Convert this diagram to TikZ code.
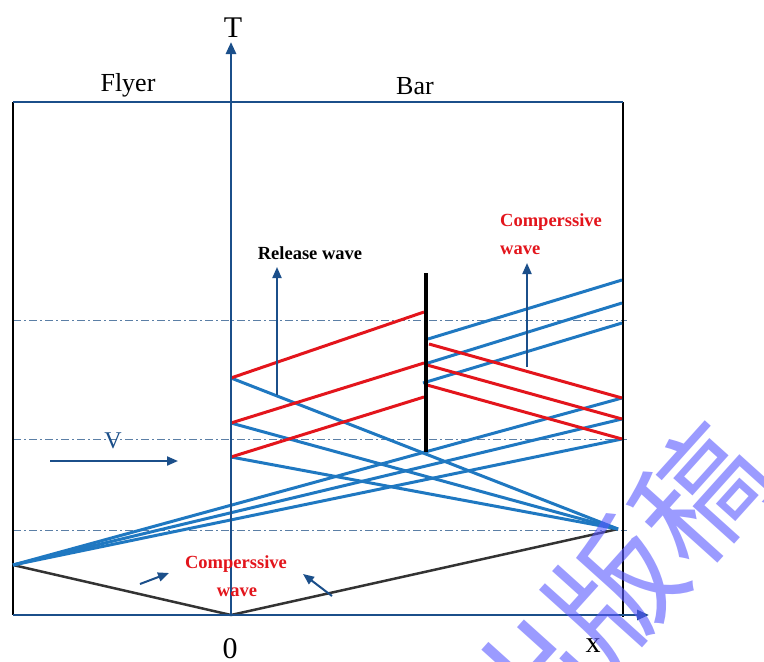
\documentclass[tikz,border=0pt]{standalone}
\usepackage{fontspec}
\setmainfont{Liberation Serif}
\newfontfamily\cjkfont{Noto Sans CJK SC}
\usetikzlibrary{arrows.meta}
\definecolor{axisblue}{HTML}{1B4F8A}
\definecolor{waveblue}{HTML}{1F78C1}
\definecolor{wavered}{HTML}{E3151C}
\definecolor{dashgray}{HTML}{5B7FA6}
\definecolor{wmblue}{rgb}{0.35,0.35,1}
\definecolor{frontgray}{HTML}{333333}
\begin{document}
\begin{tikzpicture}[x=1pt,y=-1pt,
  axisline/.style={draw=axisblue,line width=2.7pt},
  axisarrow/.style={axisline,-{Triangle[length=12pt,width=10pt]}},
  edgeline/.style={draw=black,line width=2.4pt},
  bluewave/.style={draw=waveblue,line width=3pt},
  redwave/.style={draw=wavered,line width=3pt},
  guide/.style={draw=dashgray,line width=1pt,dash pattern=on 8pt off 3pt on 2pt off 3pt},
  frontline/.style={draw=frontgray,line width=2.5pt},
  marker/.style={draw=axisblue,line width=2pt,-{Triangle[length=11pt,width=9pt]}},
  lbl/.style={inner sep=0pt,anchor=base},
  axislbl/.style={lbl,font=\fontsize{30}{32}\selectfont},
  partlbl/.style={lbl,font=\fontsize{26}{28}\selectfont},
  wavelbl/.style={lbl,font=\bfseries\fontsize{18.5}{20}\selectfont},
]
\useasboundingbox (0,0) rectangle (764,662);
\fill[white] (0,0) rectangle (764,662);

% coordinates
\coordinate (tl) at (13,102);
\coordinate (tr) at (623,102);
\coordinate (bl) at (13,615);
\coordinate (br) at (623,617);
\coordinate (O) at (231,615);
\coordinate (Ttip) at (231,42);
\coordinate (Xtip) at (649,615);
\coordinate (A) at (13,565);
\coordinate (B) at (618,529);
\coordinate (R1) at (622,398);
\coordinate (R2) at (622,419);
\coordinate (R3) at (622,439);
\coordinate (L1) at (231,378);
\coordinate (L2) at (231,423);
\coordinate (L3) at (231,457);
\coordinate (M1) at (424,312);
\coordinate (M2) at (424,363);
\coordinate (M3) at (424,397);
\coordinate (N1) at (429,344);
\coordinate (N2) at (427,365);
\coordinate (N3) at (427,385);
\coordinate (P1) at (428,339);
\coordinate (P2) at (428,363);
\coordinate (P3) at (423,383);
\coordinate (Q1) at (622,280);
\coordinate (Q2) at (622,303);
\coordinate (Q3) at (622,323);
\coordinate (bartop) at (426,273);
\coordinate (barbot) at (426,452);
\coordinate (g1a) at (13,320); \coordinate (g1b) at (627,320);
\coordinate (g2a) at (13,439); \coordinate (g2b) at (627,439);
\coordinate (g3a) at (13,530); \coordinate (g3b) at (627,530);
\coordinate (ra) at (277,395); \coordinate (rb) at (277,267);
\coordinate (ca) at (527,367); \coordinate (cb) at (527,263);
\coordinate (va) at (50,461); \coordinate (vb) at (178,461);
\coordinate (s1a) at (140,584); \coordinate (s1b) at (169,573);
\coordinate (s2a) at (332,596); \coordinate (s2b) at (303,574);

% guide lines
\draw[guide] (g1a) -- (g1b);
\draw[guide] (g2a) -- (g2b);
\draw[guide] (g3a) -- (g3b);

% frame
\draw[edgeline] (tl) -- (bl);
\draw[edgeline] (tr) -- (br);
\draw[axisline] (tl) -- (tr);

% impact fronts
\draw[frontline] (A) -- (O) -- (B);

% fan from flyer
\draw[bluewave] (A) -- (R1);
\draw[bluewave] (A) -- (R2);
\draw[bluewave] (A) -- (R3);

% from interface to right point
\draw[bluewave] (L1) -- (B);
\draw[bluewave] (L2) -- (B);
\draw[bluewave] (L3) -- (B);

% red waves left
\draw[redwave] (L1) -- (M1);
\draw[redwave] (L2) -- (M2);
\draw[redwave] (L3) -- (M3);

% right of bar
\draw[bluewave] (P1) -- (Q1);
\draw[bluewave] (P2) -- (Q2);
\draw[bluewave] (P3) -- (Q3);
\draw[redwave] (N1) -- (R1);
\draw[redwave] (N2) -- (R2);
\draw[redwave] (N3) -- (R3);

% bar
\draw[draw=black,line width=4.5pt] (bartop) -- (barbot);

% axes
\draw[axisarrow] (O) -- (Ttip);
\draw[axisarrow] (bl) -- (Xtip);

% arrows
\draw[marker] (ra) -- (rb);
\draw[marker] (ca) -- (cb);
\draw[marker] (va) -- (vb);
\draw[marker] (s1a) -- (s1b);
\draw[marker] (s2a) -- (s2b);

% labels
\node[axislbl] (tlabel) at (233,37) {T};
\node[axislbl] (zlabel) at (230,658) {0};
\node[axislbl] (xlabel) at (593,652) {x};
\node[partlbl] (flyer) at (128,91) {Flyer};
\node[partlbl] (bar) at (415,94) {Bar};
\node[lbl,text=axisblue,font=\fontsize{24}{26}\selectfont] (vlabel) at (113,448) {V};
\node[wavelbl] (release) at (310,259) {Release wave};
\node[wavelbl,text=wavered,anchor=base west] (comp1) at (500,226) {Comperssive};
\node[wavelbl,text=wavered,anchor=base west] (comp1b) at (500,254) {wave};
\node[wavelbl,text=wavered] (comp2) at (236,568) {Comperssive};
\node[wavelbl,text=wavered] (comp2b) at (237,596) {wave};

% watermark
\begin{scope}
\clip (0,0) rectangle (764,662);
\node[rotate=48,text=wmblue,text opacity=0.6,inner sep=0pt,font=\cjkfont\fontsize{128}{130}\selectfont] (wm) at (615,590) {出版稿};
\end{scope}
\end{tikzpicture}
\end{document}
